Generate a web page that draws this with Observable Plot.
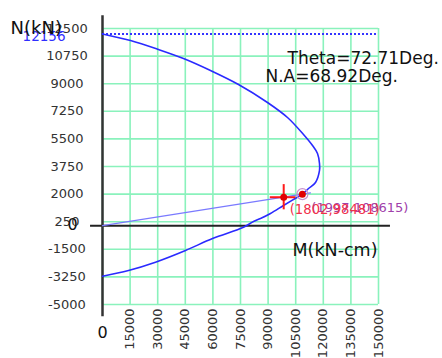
<!DOCTYPE html>
<html><head><meta charset="utf-8">
<script src="https://cdn.jsdelivr.net/npm/d3@7"></script>
<script src="https://cdn.jsdelivr.net/npm/@observablehq/plot@0.6"></script>
<style>html,body{margin:0;padding:0;background:#fff} svg{display:block}</style>
</head><body><div id="chart"></div>
<script>
// ---- data ----
const mTicks = [0, 15000, 30000, 45000, 60000, 75000, 90000, 105000, 120000, 135000, 150000];
const nTicks = [-5000, -3250, -1500, 250, 2000, 3750, 5500, 7250, 9000, 10750, 12500];
const curveM = [0, 15220, 30430, 44020, 58700, 73910, 89670, 100540, 109240, 114130, 116850, 117940, 117940, 115770, 111960, 108615, 103800, 98370, 91300, 85870, 82070, 76630, 59790, 45110, 28800, 14130, 0];
const curveN = [12156, 11740, 11170, 10599, 9838, 8950, 7809, 6858, 5780, 5082, 4576, 3942, 3498, 2737, 2356, 1997, 1658, 1278, 771, 454, 264, -98, -815, -1576, -2318, -2844, -3205];
const loadLineM = [0, 113000];
const loadLineN = [0, 2078];
const nMax = 12156;
const capPoint = {m: 108615, n: 1997};
const loadPoint = {m: 98481, n: 1802};
const thetaText = "Theta=72.71Deg.";
const naText = "N.A=68.92Deg.";
const yTitle = "N(kN)";
const xTitle = "M(kN-cm)";

const curve = curveM.map((m, i) => ({m, n: curveN[i]}));
const loadLine = loadLineM.map((m, i) => ({m, n: loadLineN[i]}));
const font = "'DejaVu Sans', sans-serif";
const grid = "#8af2bc";

const chart = Plot.plot({
  width: 442, height: 358,
  marginLeft: 102, marginRight: 64, marginTop: 28, marginBottom: 54,
  style: {fontFamily: font, background: "#fff", overflow: "visible"},
  x: {domain: [0, 150000]},
  y: {domain: [-5000, 12500]},
  marks: [
    Plot.gridX(mTicks, {stroke: grid, strokeOpacity: 1, strokeWidth: 1.6}),
    Plot.gridY(nTicks, {stroke: grid, strokeOpacity: 1, strokeWidth: 1.6}),
    Plot.axisY(nTicks, {anchor: "left", tickSize: 0, tickPadding: 35.5, textAnchor: "middle", fontSize: 13, fill: "#333", tickFormat: d => String(d), label: null}),
    Plot.axisX(mTicks.slice(1), {anchor: "bottom", tickSize: 0, tickPadding: 4, tickRotate: -90, fontSize: 13, fill: "#333", tickFormat: d => String(d), label: null}),
    // axes lines
    Plot.ruleY([0], {x1: -6500, x2: 156500, stroke: "#222", strokeWidth: 2}),
    Plot.ruleX([0], {y1: 13316, y2: -5770, stroke: "#333", strokeWidth: 2.5}),
    // max axial load dotted line
    Plot.ruleY([nMax], {x1: 0, x2: 150000, stroke: "#3434ff", strokeWidth: 2, strokeDasharray: "2 2"}),
    // load line
    Plot.line(loadLine, {x: "m", y: "n", stroke: "#7a7aff", strokeWidth: 1.2}),
    // interaction curve
    Plot.line(curve, {x: "m", y: "n", stroke: "#2a2aff", strokeWidth: 1.6, curve: "catmull-rom"}),
    // cross at load point
    Plot.ruleX([loadPoint], {x: "m", y1: d => d.n - 800, y2: d => d.n + 800, stroke: "#ff1a1a", strokeWidth: 2}),
    Plot.ruleY([loadPoint], {y: "n", x1: d => d.m - 7300, x2: d => d.m + 6600, stroke: "#ff1a1a", strokeWidth: 2}),
    Plot.dot([loadPoint], {x: "m", y: "n", r: 3.5, fill: "#e00000", stroke: "none"}),
    Plot.dot([capPoint], {x: "m", y: "n", r: 5.5, fill: "none", stroke: "#c890cc", strokeWidth: 1.2}),
    Plot.dot([capPoint], {x: "m", y: "n", r: 3.5, fill: "#e00000", stroke: "none"}),
    // point labels
    Plot.text([capPoint], {x: "m", y: "n", text: d => `(${d.n},${d.m})`, textAnchor: "start", dx: 9, dy: 13.5, fontSize: 13, fill: "#a040aa"}),
    Plot.text([loadPoint], {x: "m", y: "n", text: d => `(${d.n},${d.m})`, textAnchor: "start", dx: 6, dy: 13, fontSize: 13.2, fill: "#f0304a"}),
    // nMax label
    Plot.text([nMax], {x: () => 0, y: d => d, text: d => String(d), textAnchor: "end", dx: -37, dy: 2.5, fontSize: 13.5, fill: "#2f2fff"}),
    // zero labels
    Plot.text(["0"], {x: () => 0, y: () => 0, text: d => d, textAnchor: "middle", dx: -30, dy: -1, fontSize: 16, fill: "#111"}),
    Plot.text(["0"], {x: () => 0, y: () => -5000, text: d => d, textAnchor: "middle", dx: 0, dy: 28, fontSize: 16, fill: "#111"}),
    // titles
    Plot.text([yTitle], {frameAnchor: "top-left", text: d => d, textAnchor: "start", dx: -92, dy: -7.5, fontSize: 18, fill: "#111"}),
    Plot.text([xTitle], {frameAnchor: "top-left", text: d => d, textAnchor: "start", dx: 190, dy: 215.5, fontSize: 17.5, fill: "#111"}),
    Plot.text([thetaText], {frameAnchor: "top-left", text: d => d, textAnchor: "start", dx: 185, dy: 23.5, fontSize: 17, fill: "#111"}),
    Plot.text([naText], {frameAnchor: "top-left", text: d => d, textAnchor: "start", dx: 163, dy: 41.5, fontSize: 17, fill: "#111"})
  ]
});
document.getElementById("chart").appendChild(chart);
</script>
</body></html>
